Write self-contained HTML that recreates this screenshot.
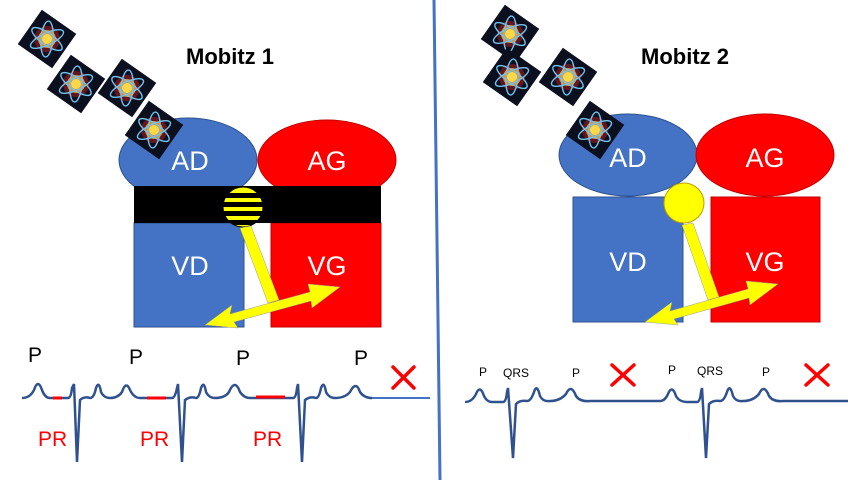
<!DOCTYPE html>
<html><head><meta charset="utf-8"><style>
html,body{margin:0;padding:0;background:#fff;width:853px;height:480px;overflow:hidden}
svg{display:block}
text{font-family:"Liberation Sans",sans-serif}
</style></head><body>
<svg width="853" height="480" viewBox="0 0 853 480" xmlns="http://www.w3.org/2000/svg">
<defs>
<g id="atom">
<rect x="-21" y="-21" width="42" height="42" fill="#0b0f1e"/>
<circle r="13" fill="#8a1a20" opacity="0.7"/>
<circle r="9" fill="#f08a1a"/><circle r="5" fill="#ffd84a"/>
<ellipse rx="18" ry="6" fill="none" stroke="#6fc4ee" stroke-width="1.4"/>
<ellipse rx="18" ry="6" fill="none" stroke="#6fc4ee" stroke-width="1.4" transform="rotate(60)"/>
<ellipse rx="18" ry="6" fill="none" stroke="#6fc4ee" stroke-width="1.4" transform="rotate(-60)"/>
</g>
<clipPath id="cc"><circle cx="243" cy="207" r="20"/></clipPath>
</defs>

<line x1="434" y1="0" x2="440" y2="480" stroke="#4472c4" stroke-width="3"/>

<!-- LEFT -->
<text x="230" y="64" font-size="22" font-weight="bold" text-anchor="middle">Mobitz 1</text>
<ellipse cx="188" cy="160" rx="69" ry="42" fill="#4472c4" stroke="#2f528f" stroke-width="1"/>
<ellipse cx="327" cy="160" rx="69" ry="40" fill="#f00" stroke="#c00000" stroke-width="1"/>
<rect x="134" y="223" width="110" height="104" fill="#4472c4" stroke="#2f528f"/>
<rect x="271" y="223" width="110" height="104" fill="#f00" stroke="#c00000"/>
<rect x="134" y="186" width="247" height="37" fill="#000"/>
<g transform="translate(47,39) rotate(35)"><use href="#atom"/></g>
<g transform="translate(76,84) rotate(35)"><use href="#atom"/></g>
<g transform="translate(127,88) rotate(35)"><use href="#atom"/></g>
<g transform="translate(154,130) rotate(35)"><use href="#atom"/></g>
<text x="190" y="170" font-size="27" fill="#fff" text-anchor="middle">AD</text>
<text x="327" y="170" font-size="27" fill="#fff" text-anchor="middle">AG</text>
<text x="190" y="275" font-size="27" fill="#fff" text-anchor="middle">VD</text>
<text x="327" y="275" font-size="27" fill="#fff" text-anchor="middle">VG</text>
<circle cx="243" cy="207" r="20" fill="#ff0"/>
<g clip-path="url(#cc)" fill="#000"><rect x="220" y="193" width="50" height="5"/><rect x="220" y="202" width="50" height="5"/><rect x="220" y="211" width="50" height="5"/><rect x="220" y="220" width="50" height="5"/></g>
<circle cx="243" cy="207" r="20" fill="none" stroke="#000" stroke-width="1"/>
<polygon points="240,228 251,226 279,300 268,303" fill="#ff0" stroke="#999" stroke-width="0.5"/>
<polygon points="205,325 232,305 230,314 310,292 308,284 340,287 312,308 311,301 234,322 238,328" fill="#ff0" stroke="#999" stroke-width="0.5"/>

<g font-size="21">
<text x="28" y="362">P</text><text x="129" y="364">P</text><text x="236" y="365">P</text><text x="354" y="365">P</text>
<text x="38" y="446" fill="#f00">PR</text><text x="140" y="446" fill="#f00">PR</text><text x="253" y="446" fill="#f00">PR</text>
</g>
<path d="M22,398 Q30,398 34,390 Q38,378 42,390 Q45,398 50,398 L68,398 Q71,398 72,388 L74,384 L77,462 L80,400 Q84,396 90,398 Q94,398 96,388 Q99,380 101,392 Q104,398 110,398 Q118,398 122,392 Q126,380 130,390 Q134,398 140,398 L172,398 Q175,398 177,388 L178,384 L182,462 L185,400 Q190,396 196,398 Q199,398 201,388 Q204,380 206,392 Q209,398 215,398 Q225,398 229,392 Q235,378 240,392 Q244,398 250,398 L293,398 Q296,398 297,388 L298,384 L302,462 L305,400 Q310,396 316,398 Q319,398 321,388 Q324,380 326,392 Q329,398 335,398 Q345,398 350,392 Q356,380 360,392 Q364,398 372,398" fill="none" stroke="#2f528f" stroke-width="2.5"/>
<line x1="372" y1="398" x2="430" y2="398" stroke="#4472c4" stroke-width="2"/>
<line x1="53" y1="398" x2="62" y2="398" stroke="#f00" stroke-width="3"/>
<line x1="147" y1="398" x2="166" y2="398" stroke="#f00" stroke-width="3"/>
<line x1="256" y1="397" x2="285" y2="397" stroke="#f00" stroke-width="3"/>
<path d="M393,367 L414,388 M414,367 L393,388" stroke="#f00" stroke-width="3.5" stroke-linecap="round"/>

<!-- RIGHT -->
<text x="685" y="64" font-size="22" font-weight="bold" text-anchor="middle">Mobitz 2</text>
<ellipse cx="628" cy="155" rx="69" ry="41" fill="#4472c4" stroke="#2f528f"/>
<ellipse cx="765" cy="155" rx="69" ry="41" fill="#f00" stroke="#c00000"/>
<rect x="573" y="197" width="110" height="125" fill="#4472c4" stroke="#2f528f"/>
<rect x="711" y="197" width="109" height="125" fill="#f00" stroke="#c00000"/>
<g transform="translate(510,34) rotate(35)"><use href="#atom"/></g>
<g transform="translate(512,77) rotate(35)"><use href="#atom"/></g>
<g transform="translate(568,77) rotate(35)"><use href="#atom"/></g>
<g transform="translate(595,130) rotate(35)"><use href="#atom"/></g>
<text x="628" y="167" font-size="27" fill="#fff" text-anchor="middle">AD</text>
<text x="765" y="167" font-size="27" fill="#fff" text-anchor="middle">AG</text>
<text x="628" y="271" font-size="27" fill="#fff" text-anchor="middle">VD</text>
<text x="765" y="271" font-size="27" fill="#fff" text-anchor="middle">VG</text>
<circle cx="684" cy="203" r="20" fill="#ff0" stroke="#b8a000" stroke-width="1"/>
<polygon points="682,225 693,223 719,297 708,300" fill="#ff0" stroke="#999" stroke-width="0.5"/>
<polygon points="645,322 672,302 670,311 748,289 746,281 778,284 750,305 749,298 674,319 678,325" fill="#ff0" stroke="#999" stroke-width="0.5"/>

<g font-size="12">
<text x="479" y="376">P</text><text x="503" y="377">QRS</text><text x="572" y="377">P</text>
<text x="668" y="374">P</text><text x="697" y="375">QRS</text><text x="762" y="376">P</text>
</g>
<path d="M465,402 Q472,402 476,394 Q480,384 484,396 Q487,402 492,402 L503,402 Q506,402 507,392 L508,388 L513,458 L516,404 Q520,400 527,401 Q531,401 534,392 Q537,383 540,396 Q543,402 550,401 Q560,401 566,394 Q571,383 576,396 Q580,402 590,401 L660,401 Q665,401 668,394 Q672,384 676,396 Q679,402 688,402 L697,402 Q700,402 701,392 L702,388 L706,458 L709,404 Q713,400 720,401 Q724,401 727,392 Q730,383 733,396 Q736,402 743,401 Q753,401 759,394 Q764,383 769,396 Q773,402 783,401 L848,401" fill="none" stroke="#2f528f" stroke-width="2.5"/>
<path d="M612,365 L634,385 M634,365 L612,385" stroke="#f00" stroke-width="3.5" stroke-linecap="round"/>
<path d="M806,365 L828,385 M828,365 L806,385" stroke="#f00" stroke-width="3.5" stroke-linecap="round"/>
</svg>
</body></html>
